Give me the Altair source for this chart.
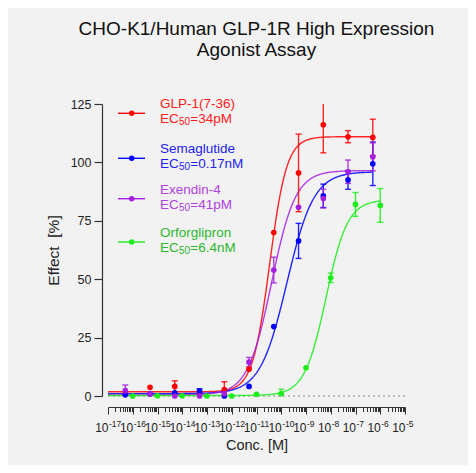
import altair as alt
import pandas as pd

# series
series = ["GLP-1(7-36)", "Semaglutide", "Exendin-4", "Orforglipron"]
ec50_values = ["=34pM", "=0.17nM", "=41pM", "=6.4nM"]
point_colors = ["#ff0000", "#0000ff", "#a61ee0", "#1aee1a"]
text_colors = ["#ff2020", "#2222ee", "#b040e0", "#2db82d"]

# concentrations [M]
conc_peptide = [5e-17, 5e-16, 5e-15, 5e-14, 5e-13, 5e-12, 5e-11, 5e-10, 5e-9, 5e-8, 5e-7]
conc_small = [1e-16, 1e-15, 1e-14, 1e-13, 1e-12, 1e-11, 1e-10, 1e-9, 1e-8, 1e-7, 1e-6]

# effect [%] and error
glp1 = [1.0, 3.7, 4.1, 1.8, 2.7, 11.5, 70.0, 95.5, 116.1, 111.0, 110.7]
glp1_err = [0, 0, 2.4, 0, 3.4, 0, 0, 16.6, 12.0, 2.6, 7.8]
sema = [0.5, 0.9, 1.4, 2.1, 0.0, 4.1, 29.7, 66.4, 85.7, 92.5, 99.4]
sema_err = [0, 0, 0, 1.0, 0, 0, 0, 7.5, 5.0, 4.0, 9.3]
exen = [2.3, 0.9, 0.0, 0.0, 1.0, 14.5, 53.9, 80.8, 84.5, 96.0, 102.4]
exen_err = [2.4, 0, 0, 0, 0, 2.0, 5.5, 0, 4.0, 5.0, 6.0]
orfo = [0.0, 0.1, 0.1, 0.0, 0.0, 0.7, 1.0, 12.1, 50.6, 82.0, 81.6]
orfo_err = [0, 0, 0, 0, 0, 0, 1.9, 0, 2.0, 5.1, 7.2]

# fitted 4PL parameters
fit_bottom = [1.8, 1.0, 0.5, 0.2]
fit_top = [111.0, 96.0, 96.5, 84.0]
fit_logec50 = [-10.47, -9.77, -10.39, -8.19]
fit_hill = [1.25, 0.8, 0.9, 1.0]
fit_xmax = [-6.3, -6.3, -6.3, -6.0]

# x tick labels: 10 with a raised exponent
x_decades = [1e-17, 1e-16, 1e-15, 1e-14, 1e-13, 1e-12, 1e-11,
             1e-10, 1e-9, 1e-8, 1e-7, 1e-6, 1e-5]
x_exponents = ["-17", "-16", "-15", "-14", "-13", "-12", "-11",
               "-10", "-9", "-8", "-7", "-6", "-5"]
y_ticks = [0, 25, 50, 75, 100, 125]

rows = []
for name, concs, vals, errs in zip(
    series,
    [conc_peptide, conc_peptide, conc_peptide, conc_small],
    [glp1, sema, exen, orfo],
    [glp1_err, sema_err, exen_err, orfo_err],
):
    for c, v, e in zip(concs, vals, errs):
        rows.append({"series": name, "conc": c, "resp": v, "lo": v - e, "hi": v + e, "err": e})
points = pd.DataFrame(rows)

params = pd.DataFrame({
    "series": series, "bottom": fit_bottom, "top": fit_top,
    "logec50": fit_logec50, "hill": fit_hill, "xmax": fit_xmax,
})
xlabels = pd.DataFrame({"conc": x_decades, "base": ["10"] * len(x_decades), "exp": x_exponents})

font = "Liberation Sans"
ink = "#222"
color = alt.Color("series:N", scale=alt.Scale(domain=series, range=point_colors), legend=None)

major_test = "abs(log(datum.value)/LN10 - round(log(datum.value)/LN10)) < 0.01"
x_ticks = [m * 10.0 ** k for k in range(-17, -5) for m in range(1, 10)] + [1e-5]

x_enc = alt.X(
    "conc:Q",
    scale=alt.Scale(type="log", domain=[1e-17, 1e-5], nice=False),
    axis=alt.Axis(
        values=x_ticks, offset=11, grid=False, labels=False,
        tickSize={"condition": {"test": major_test, "value": 7}, "value": 4.5},
        title="Conc. [M]", titleFontSize=14.5, titleFontWeight="normal",
        titleColor=ink, titlePadding=24,
        domainColor="#333", tickColor="#333", domainWidth=1.2, tickWidth=1,
    ),
)
y_enc = alt.Y(
    "resp:Q",
    scale=alt.Scale(domain=[0, 125], nice=False),
    axis=alt.Axis(
        values=y_ticks, offset=6, grid=False, tickSize=8,
        labelFontSize=12.5, labelPadding=3, labelColor=ink,
        title="Effect\u00a0\u00a0[%]", titleFontSize=15.5, titleFontWeight="normal",
        titleColor=ink, titlePadding=9,
        domainColor="#333", tickColor="#333", domainWidth=1.2, tickWidth=1.2,
    ),
)

baseline = (
    alt.Chart(pd.DataFrame({"resp": [0]}))
    .mark_rule(color="#888", strokeDash=[2, 3], strokeWidth=1.2)
    .encode(y=y_enc)
)

curves = (
    alt.Chart(params)
    .transform_calculate(lx="sequence(-17, datum.xmax + 0.001, 0.04)")
    .transform_flatten(["lx"])
    .transform_calculate(
        conc="pow(10, datum.lx)",
        resp="datum.bottom + (datum.top - datum.bottom) / (1 + pow(10, datum.hill * (datum.logec50 - datum.lx)))",
    )
    .mark_line(strokeWidth=1.4, opacity=0.85)
    .encode(x=x_enc, y="resp:Q", color=color, detail="series:N", order="lx:Q")
)

bars_base = alt.Chart(points).transform_filter("datum.err > 0")
bars = bars_base.mark_rule(strokeWidth=1.4, opacity=0.85, clip=True).encode(
    x="conc:Q", y="lo:Q", y2="hi:Q", color=color
)
caps_lo = bars_base.mark_tick(orient="horizontal", size=6, thickness=1.4, opacity=0.85, clip=True).encode(
    x="conc:Q", y="lo:Q", color=color
)
caps_hi = bars_base.mark_tick(orient="horizontal", size=6, thickness=1.4, opacity=0.85, clip=True).encode(
    x="conc:Q", y="hi:Q", color=color
)

dots = alt.Chart(points).mark_point(filled=True, size=32, opacity=1).encode(
    x="conc:Q", y="resp:Q", color=color
)

# x tick labels, "10" plus a smaller raised exponent
lab_base = alt.Chart(xlabels).mark_text(
    align="right", baseline="alphabetic", font=font, fontSize=12, color=ink, dx=0.5
).encode(x="conc:Q", y=alt.value(327.5), text="base:N")
lab_exp = alt.Chart(xlabels).mark_text(
    align="left", baseline="alphabetic", font=font, fontSize=8.5, color=ink, dx=1
).encode(x="conc:Q", y=alt.value(323), text="exp:N")

# legend drawn by hand, top-left of the plot
legend_layers = []
sym_y = [9.3, 54.3, 94.7, 138]
for i, name in enumerate(series):
    one = alt.Chart(pd.DataFrame({"series": [name]}))
    y0 = sym_y[i]
    txt = dict(align="left", baseline="alphabetic", font=font, color=text_colors[i])
    legend_layers += [
        one.mark_rule(strokeWidth=1.4).encode(
            x=alt.value(10), x2=alt.value(37), y=alt.value(y0), color=color
        ),
        one.mark_point(filled=True, size=30, opacity=1).encode(
            x=alt.value(23.7), y=alt.value(y0), color=color
        ),
        one.mark_text(fontSize=13.5, **txt).encode(
            x=alt.value(52), y=alt.value(y0 - 5), text=alt.value(name)
        ),
        one.mark_text(fontSize=13.5, **txt).encode(
            x=alt.value(52), y=alt.value(y0 + 10), text=alt.value("EC")
        ),
        one.mark_text(fontSize=10, **txt).encode(
            x=alt.value(71), y=alt.value(y0 + 12), text=alt.value("50")
        ),
        one.mark_text(fontSize=13.5, **txt).encode(
            x=alt.value(82.3), y=alt.value(y0 + 10), text=alt.value(ec50_values[i])
        ),
    ]

chart = (
    alt.layer(baseline, curves, bars, caps_lo, caps_hi, dots, lab_base, lab_exp, *legend_layers)
    .properties(
        width=297,
        height=292,
        autosize=alt.AutoSizeParams(type="none"),
        padding={"left": 100, "top": 96, "right": 63, "bottom": 69},
        background="#f2f2f2",
        title=alt.TitleParams(
            ["CHO-K1/Human GLP-1R High Expression", "Agonist Assay"],
            font=font, fontSize=19, fontWeight="normal", color="#111",
            anchor="middle", offset=37, lineHeight=21.5,
        ),
    )
    .configure_view(stroke=None)
    .configure_axis(labelFont=font, titleFont=font)
)

chart.save("out.html", embed_options={"renderer": "svg", "actions": False})
